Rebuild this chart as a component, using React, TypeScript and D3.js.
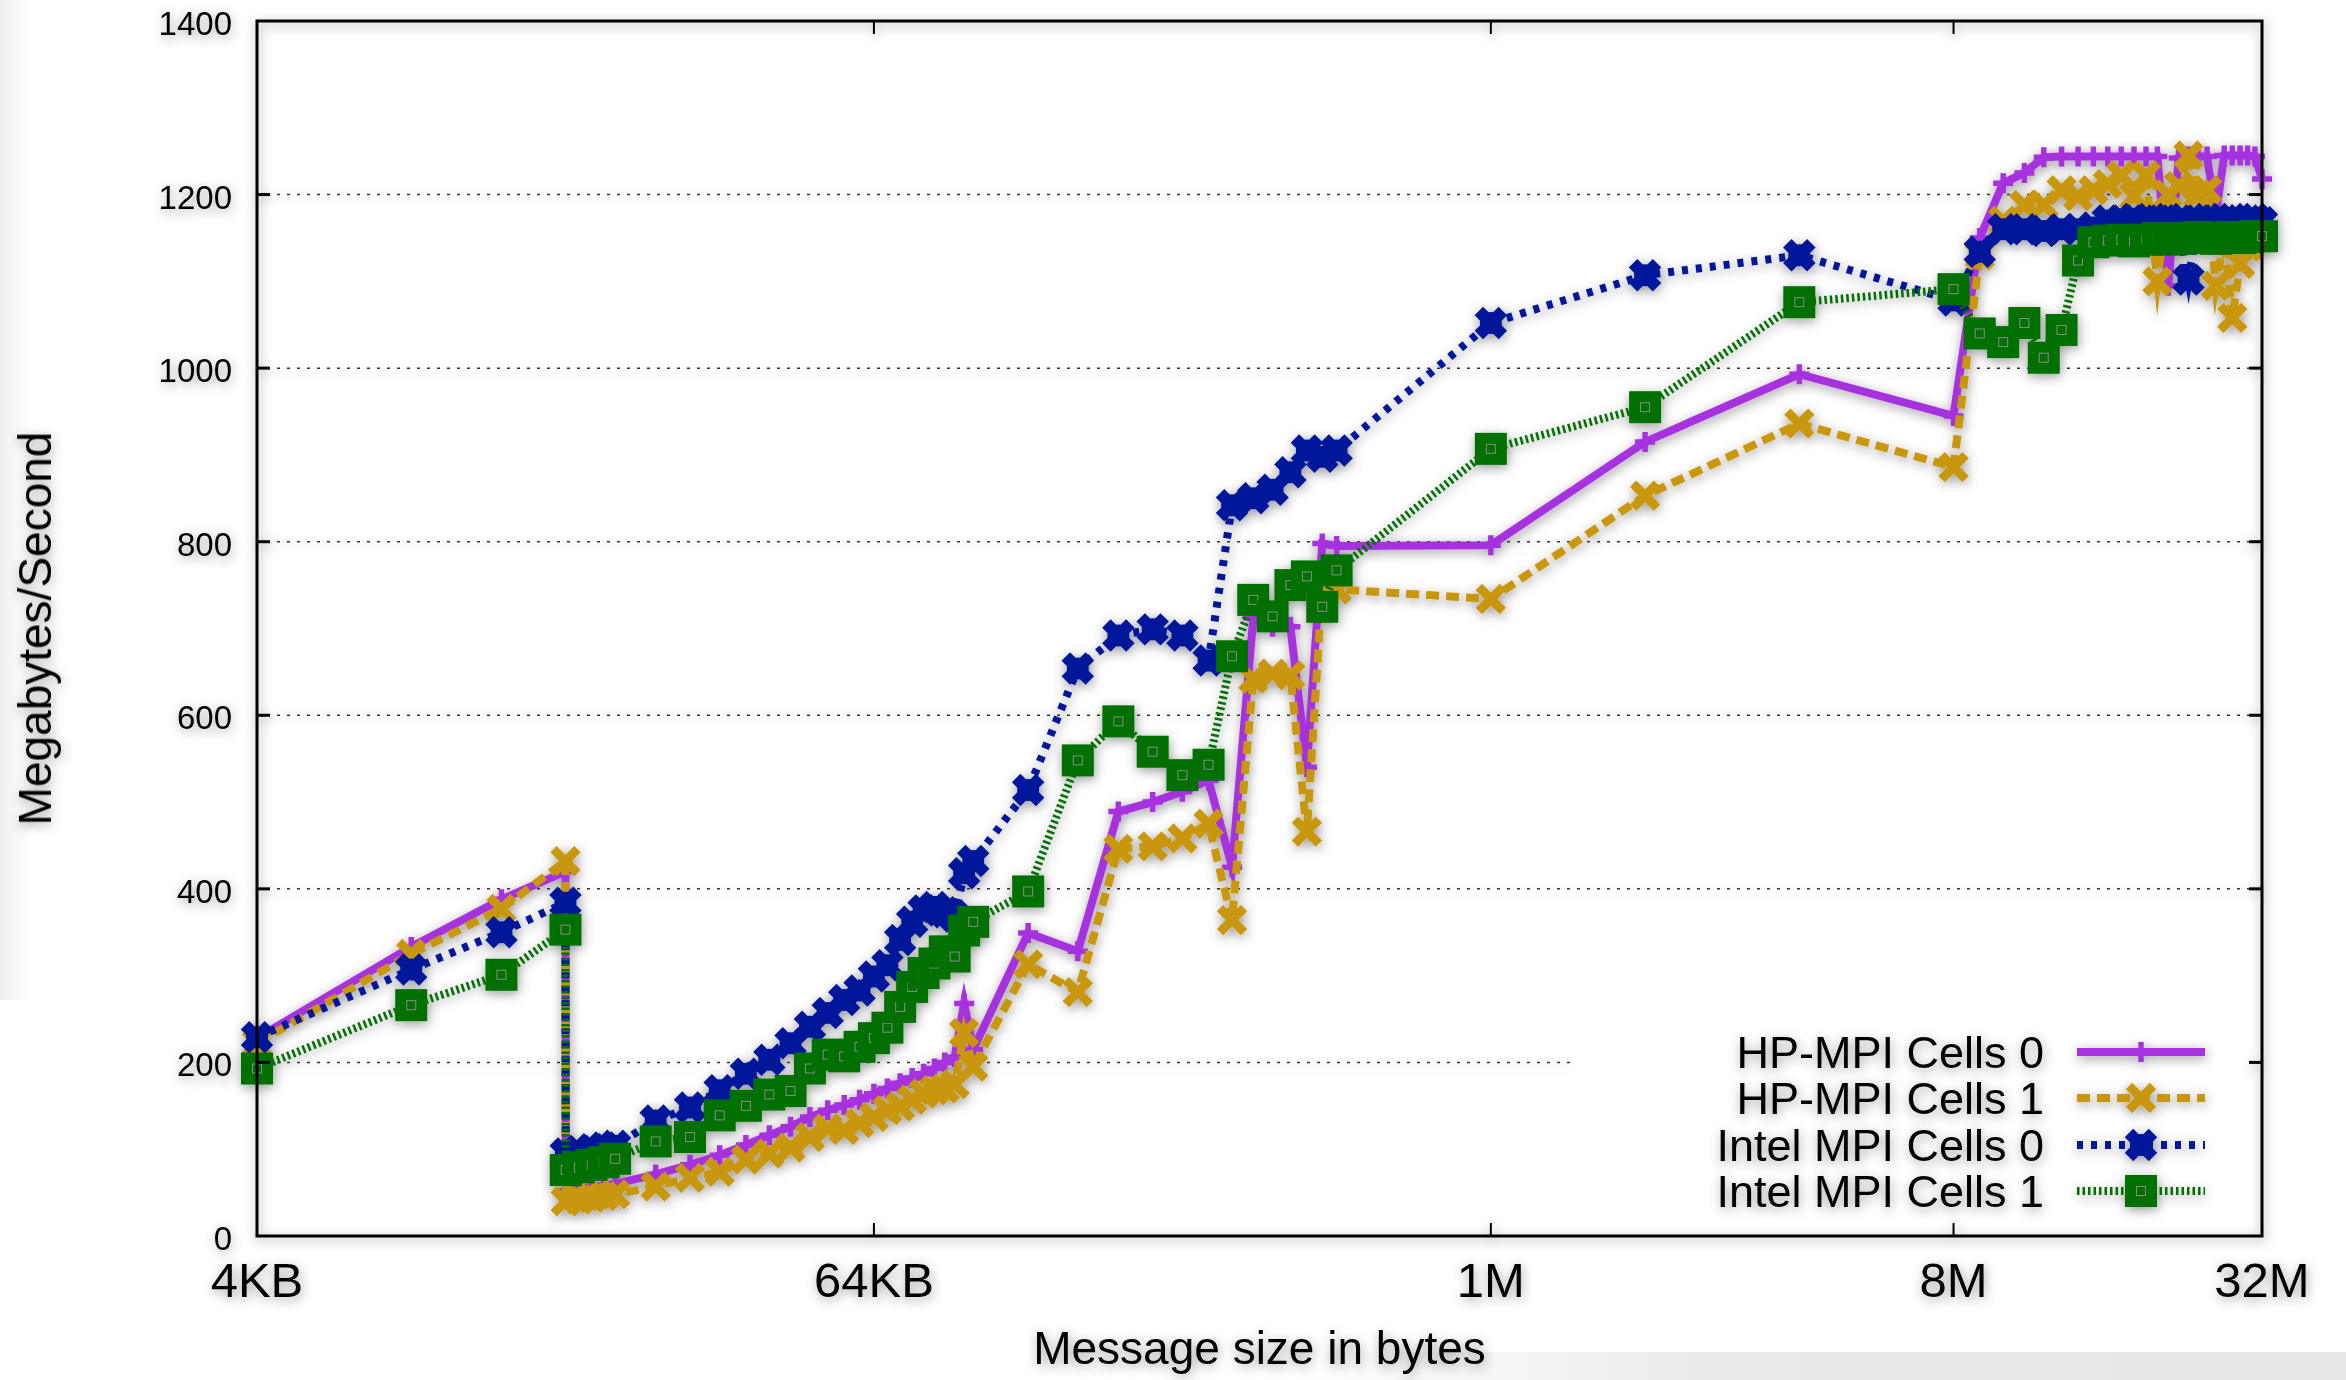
import React, { useEffect } from 'react';
import * as d3 from 'd3';

// ---------- data (message size in KB, bandwidth in MB/s) ----------
const messageSizesKB = [
  4, 8, 12, 16, 16.02, 17, 18, 19, 20,
  24, 28, 32, 36, 40, 44, 48, 52, 56, 60, 64, 68, 72, 76, 80, 84, 88, 92, 96, 100,
  128, 160, 192, 224, 256, 288, 320, 352, 384, 416, 448, 480, 512,
  1024, 2048, 4096,
  8192, 9216, 10240, 11264, 12288, 13312, 14336, 15360, 16384, 17408, 18432, 19456,
  20480, 21504, 22528, 23552, 24576, 25600, 26624, 27648, 28672, 29696, 30720, 31744, 32768,
];

const hpCells0 = [
  228, 333, 388, 420, 52, 54, 56, 58, 60,
  71, 82, 93, 105, 116, 126, 137, 145, 151, 157, 164, 170, 176, 182, 187, 193, 200, 206, 268, 215,
  349, 328, 489, 500, 512, 525, 425, 712, 702, 702, 540, 798, 795,
  796, 915, 993,
  945, 1150, 1213, 1225, 1243, 1244, 1244, 1244, 1244, 1244, 1244, 1244,
  1244, 1095, 1242, 1244, 1244, 1244, 1176, 1245, 1245, 1245, 1245, 1244, 1218,
];

const hpCells1 = [
  222, 325, 377, 432, 40, 42, 44, 46, 48,
  57, 67, 74, 88, 95, 102, 114, 124, 122, 130, 137, 145, 149, 157, 164, 168, 170, 175, 234, 195,
  313, 281, 446, 449, 458, 475, 364, 642, 648, 646, 466, 748, 745,
  734, 853, 936,
  886, 1130, 1170, 1188, 1188, 1205, 1198, 1205, 1212, 1222, 1198, 1222,
  1100, 1200, 1210, 1245, 1200, 1205, 1095, 1150, 1058, 1120, 1140, 1150, 1155,
];

const intelCells0 = [
  229, 307, 350, 384, 95, 98, 100, 102, 104,
  133, 148, 168, 187, 203, 222, 241, 257, 272, 283, 299, 312, 341, 362, 375, 379, 373, 368, 418, 432,
  514, 654, 692, 699, 692, 663, 842, 850, 860, 880, 905, 898, 905,
  1052, 1107, 1130,
  1078, 1134, 1160, 1160, 1158, 1160, 1160, 1162, 1170, 1170, 1172, 1170,
  1170, 1172, 1170, 1102, 1170, 1172, 1170, 1170, 1172, 1170, 1170, 1172, 1168,
];

const intelCells1 = [
  193, 266, 301, 353, 76, 79, 82, 85, 89,
  109, 114, 139, 150, 163, 167, 193, 209, 207, 218, 228, 240, 264, 287, 303, 314, 328, 322, 352, 362,
  397, 548, 593, 558, 531, 543, 668, 733, 714, 750, 760, 725, 767,
  907, 955, 1076,
  1091, 1040, 1030, 1052, 1012, 1044, 1124, 1145, 1147, 1148, 1146, 1148,
  1150, 1148, 1149, 1150, 1151, 1150, 1149, 1150, 1151, 1150, 1151, 1152, 1152,
];

const seriesNames = ['HP-MPI Cells 0', 'HP-MPI Cells 1', 'Intel MPI Cells 0', 'Intel MPI Cells 1'];
const yTicks = [0, 200, 400, 600, 800, 1000, 1200, 1400];
const xTicksKB = [4, 64, 1024, 8192, 32768];
const xTickLabels = ['4KB', '64KB', '1M', '8M', '32M'];

// ---------- styles ----------
const W = 2346;
const H = 1380;
const M = { left: 257, right: 84, top: 21, bottom: 144 };
const FONT = "'Liberation Sans', Arial, Helvetica, sans-serif";

const styles = [
  { color: '#a531de', dash: null, marker: 'plus' },
  { color: '#c9970b', dash: '13 7', marker: 'x' },
  { color: '#00189b', dash: '6 8', marker: 'star' },
  { color: '#007000', dash: '2.5 3', marker: 'square' },
];

function Marker({ kind, color, x, y }: { kind: string; color: string; x: number; y: number }) {
  const t = `translate(${x},${y})`;
  if (kind === 'plus') {
    return <path transform={t} d="M-10,0H10M0,-10V10" stroke={color} strokeWidth={5.5} fill="none" />;
  }
  if (kind === 'x') {
    return <path transform={t} d="M-12,-12L12,12M12,-12L-12,12" stroke={color} strokeWidth={9} fill="none" />;
  }
  if (kind === 'star') {
    return (
      <g transform={t}>
        <path d="M-12,-12L12,12M12,-12L-12,12" stroke={color} strokeWidth={12} fill="none" />
        <circle r={11} fill={color} />
      </g>
    );
  }
  return (
    <g transform={t}>
      <rect x={-16} y={-16} width={32} height={32} fill={color} />
      <rect x={-4.5} y={-4.5} width={9} height={9} fill="none" stroke="#8a8a8a" strokeWidth={1} />
    </g>
  );
}

export default function App() {
  useEffect(() => {
    document.body.style.margin = '0';
    document.body.style.overflow = 'hidden';
  }, []);

  const x = d3.scaleLog().base(2).domain([4, 32768]).range([M.left, W - M.right]);
  const y = d3.scaleLinear().domain([0, 1400]).range([H - M.bottom, M.top]);
  const x0 = M.left, x1 = W - M.right, y0 = H - M.bottom, y1 = M.top;

  const allSeries = [hpCells0, hpCells1, intelCells0, intelCells1];
  const line = d3.line<number>().x((_, i) => x(messageSizesKB[i])).y((d) => y(d));

  const legendX = 2044;
  const legendBase = [1068, 1114, 1161, 1207];
  const legendLine = [2077, 2205];
  const legendLeft = 1574;
  const legendTop = 1028;

  return (
    <svg width={W} height={H} style={{ position: 'absolute', left: 0, top: 0, background: '#fff' }}>
      <defs>
        <filter id="sh" x="-5%" y="-5%" width="110%" height="110%">
          <feDropShadow dx="1" dy="3" stdDeviation="6" floodColor="#000" floodOpacity="0.4" />
        </filter>
        <linearGradient id="bgR" x1="0" x2="1" y1="0" y2="0">
          <stop offset="0" stopColor="#eaeaea" stopOpacity="0" />
          <stop offset="0.4" stopColor="#eaeaea" stopOpacity="1" />
          <stop offset="1" stopColor="#e6e6e6" stopOpacity="1" />
        </linearGradient>
        <linearGradient id="bgL" x1="0" x2="1" y1="0" y2="0">
          <stop offset="0" stopColor="#efefef" stopOpacity="1" />
          <stop offset="1" stopColor="#efefef" stopOpacity="0" />
        </linearGradient>
      </defs>
      <rect x={0} y={0} width={W} height={H} fill="#fff" />
      <rect x={1300} y={1352} width={W - 1300} height={H - 1352} fill="url(#bgR)" />
      <rect x={0} y={0} width={30} height={1000} fill="url(#bgL)" />

      <g filter="url(#sh)">
        {/* grid (the key area blanks the part of a grid line that crosses it) */}
        {yTicks.filter((v) => v > 0 && v < 1400).map((v) => (
          <line
            key={'g' + v}
            x1={x0}
            x2={y(v) > legendTop ? legendLeft : x1}
            y1={y(v)}
            y2={y(v)}
            stroke="#333"
            strokeWidth={1.5}
            strokeDasharray="3 7"
          />
        ))}

        {/* data */}
        {allSeries.map((vals, si) => (
          <g key={'s' + si}>
            <path
              d={line(vals) || ''}
              fill="none"
              stroke={styles[si].color}
              strokeWidth={8}
              strokeDasharray={styles[si].dash || undefined}
              strokeLinejoin="miter"
              strokeMiterlimit={10}
            />
            {vals.map((v, i) => (
              <Marker key={i} kind={styles[si].marker} color={styles[si].color} x={x(messageSizesKB[i])} y={y(v)} />
            ))}
          </g>
        ))}

        {/* border */}
        <rect x={x0} y={y1} width={x1 - x0} height={y0 - y1} fill="none" stroke="#000" strokeWidth={3} />
        {/* ticks */}
        {yTicks.filter((v) => v > 0 && v < 1400).map((v) => (
          <g key={'yt' + v}>
            <line x1={x0} x2={x0 + 13} y1={y(v)} y2={y(v)} stroke="#000" strokeWidth={3} />
            <line x1={x1 - 13} x2={x1} y1={y(v)} y2={y(v)} stroke="#000" strokeWidth={3} />
          </g>
        ))}
        {xTicksKB.slice(1, -1).map((v) => (
          <g key={'xt' + v}>
            <line x1={x(v)} x2={x(v)} y1={y0} y2={y0 - 13} stroke="#000" strokeWidth={2} />
            <line x1={x(v)} x2={x(v)} y1={y1} y2={y1 + 13} stroke="#000" strokeWidth={2} />
          </g>
        ))}

        {/* tick labels */}
        {yTicks.map((v) => (
          <text key={'yl' + v} x={232} y={y(v) + 14} textAnchor="end" fontFamily={FONT} fontSize={33} fill="#000">
            {v}
          </text>
        ))}
        {xTicksKB.map((v, i) => (
          <text key={'xl' + v} x={x(v)} y={1297} textAnchor="middle" fontFamily={FONT} fontSize={49} fill="#000">
            {xTickLabels[i]}
          </text>
        ))}

        {/* axis titles */}
        <text x={(x0 + x1) / 2} y={1364} textAnchor="middle" fontFamily={FONT} fontSize={46} fill="#000">
          Message size in bytes
        </text>
        <text
          transform={`translate(51,${(y0 + y1) / 2}) rotate(-90)`}
          textAnchor="middle"
          fontFamily={FONT}
          fontSize={46}
          fill="#000"
        >
          Megabytes/Second
        </text>

        {/* legend */}
        {seriesNames.map((name, i) => {
          const ly = legendBase[i] - 16;
          return (
            <g key={'lg' + i}>
              <text x={legendX} y={legendBase[i]} textAnchor="end" fontFamily={FONT} fontSize={45} fill="#000">
                {name}
              </text>
              <line
                x1={legendLine[0]}
                x2={legendLine[1]}
                y1={ly}
                y2={ly}
                stroke={styles[i].color}
                strokeWidth={8}
                strokeDasharray={styles[i].dash || undefined}
              />
              <Marker kind={styles[i].marker} color={styles[i].color} x={(legendLine[0] + legendLine[1]) / 2} y={ly} />
            </g>
          );
        })}
      </g>
    </svg>
  );
}
